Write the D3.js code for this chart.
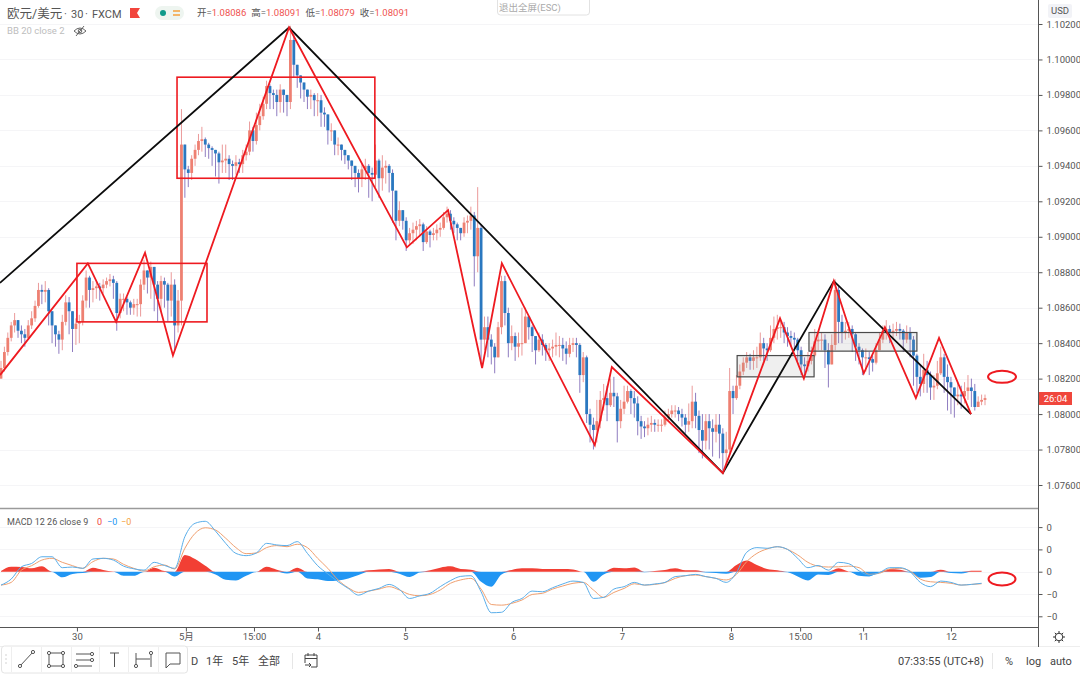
<!DOCTYPE html>
<html>
<head>
<meta charset="utf-8">
<script src="https://cdn.jsdelivr.net/npm/d3@7"></script>
<style>
  html, body { margin: 0; padding: 0; background: #fff; }
  svg { display: block; font-family: Roboto, "Noto Sans CJK SC", sans-serif; }
</style>
</head>
<body>
<svg id="chart" width="1080" height="675"></svg>
<script>
// candles, in pips above basePrice, one bar per column of the chart
const basePrice = 1.07;
const closes = [
  126,135,143,150,153,147,145,143,150,154, 161,170,169,170,158,150,145,142,152,163,
  158,148,151,152,164,177,170,171,172,171, 173,175,176,174,157,165,165,163,160,162,
  162,173,181,177,183,173,165,175,173,164, 173,150,164,252,238,236,244,249,254,255,
  252,250,249,247,242,243,244,241,240,242, 241,246,248,260,254,263,268,275,285,281,
  280,276,283,280,276,311,297,291,287,283, 279,280,277,277,270,269,260,260,252,252,
  249,246,243,240,236,233,238,240,236,235, 243,233,239,240,236,226,209,215,209,198,
  202,204,206,207,197,203,201,202,204,205, 211,213,209,207,205,202,208,209,212,189,
  205,142,149,142,138,132,149,175,157,140, 144,138,140,140,155,149,144,136,142,139,
  136,137,138,139,139,137,134,139,140,139, 122,132,100,94,91,96,108,109,105,112,
  110,96,103,107,113,109,106,96,93,92, 94,95,94,94,94,98,100,102,102,100,
  98,94,96,107,99,91,85,96,92,90, 94,89,78,80,113,109,116,124,129,132,
  130,132,132,140,137,136,143,148,149,149, 146,144,143,142,136,128,127,130,133,141,
  142,142,136,128,139,170,152,146,147,148, 145,138,136,132,132,131,129,136,142,147,
  148,146,147,148,147,142,146,142,133,121, 117,125,122,115,116,123,132,121,118,115,
  110,111,110,113,115,113,104,107,108,109
];
const highs = [
  130,138,146,152,157,153,150,148,153,158, 164,174,173,175,171,158,150,147,156,167,
  166,158,154,156,167,181,178,175,175,174, 176,177,179,178,175,168,168,166,164,165,
  165,176,187,181,186,182,175,178,177,174, 180,176,170,272,252,240,246,252,258,262,
  256,253,251,249,248,252,252,246,243,246, 244,249,252,265,262,270,275,279,288,286,
  283,283,286,283,280,319,314,296,290,287, 283,283,281,281,280,273,263,264,260,256,
  252,248,246,243,240,238,241,244,241,239, 252,244,246,243,241,238,226,220,214,211,
  205,208,209,210,208,206,204,205,207,208, 214,217,215,211,208,205,211,212,217,214,
  228,207,155,155,145,140,152,178,178,160, 150,146,146,160,160,154,150,144,146,145,
  140,140,142,146,144,143,141,143,143,143, 140,135,133,103,98,108,113,117,116,120,
  121,112,108,116,116,114,113,110,99,96, 98,99,97,97,97,102,103,105,105,104,
  103,100,106,116,112,102,100,100,100,97, 100,100,92,90,126,116,122,128,132,135,
  134,136,138,146,143,140,150,155,156,153, 152,149,147,146,143,138,132,135,138,148,
  146,146,145,140,145,176,172,156,152,152, 150,146,140,137,137,135,133,140,146,150,
  153,150,151,152,151,148,150,149,144,134, 128,134,130,124,122,130,138,134,128,121,
  115,118,116,118,122,120,117,110,111,111
];
const lows = [
  120,124,133,141,146,143,140,138,142,148, 152,160,162,163,150,140,138,134,136,150,
  145,135,139,140,150,160,160,163,165,164, 168,171,172,165,147,154,158,156,156,156,
  155,155,170,168,165,158,152,158,160,152, 155,136,146,150,222,228,232,240,246,248,
  245,244,240,234,230,236,236,232,232,235, 236,236,243,246,248,252,260,266,272,272,
  272,268,270,270,268,272,290,284,278,276, 272,272,268,268,262,262,252,254,246,246,
  243,241,238,232,228,225,228,232,222,220, 228,222,226,230,225,208,198,206,204,192,
  196,196,198,200,192,196,194,198,198,200, 204,208,204,202,198,198,200,202,204,172,
  180,128,136,132,128,123,138,145,150,132, 136,130,132,133,140,142,135,128,135,133,
  130,130,132,133,132,130,128,132,135,132, 112,118,95,84,80,84,92,102,96,104,
  104,84,92,100,106,100,98,88,86,87, 88,90,90,90,90,93,96,98,98,96,
  93,89,90,92,92,78,75,80,80,76, 84,75,68,70,78,100,108,114,122,126,
  125,125,126,130,130,130,135,140,142,143, 140,138,138,137,130,122,122,124,128,132,
  136,136,126,115,128,136,140,140,142,143, 135,130,128,122,124,122,124,128,136,140,
  142,140,142,144,142,135,140,132,116,112, 110,112,112,108,108,114,122,112,102,100,
  98,105,103,106,108,104,102,104,105,105
];

// MACD pane, one sample every three bars, in units of 0.0001
const macdStep = 3;
const macdLine = [
  -6,-3.3,2.2,3.7,6.7,6.7,1.8,2.1,1.5,5.7,6,5.2,2.5,1.3,.7,4.2,2.8,1.5,15.7,21.7,22.6,18.2,12.7,8.2,7.2,8.4,12.7,12,11.7,13.5,
  8.2,2.7,-1,-4.5,-7.5,-10.5,-8.7,-7.5,-5.7,-7.9,-12,-10.8,-9.7,-6.7,-4,-2.1,-1.8,-9,-18.4,-18.2,-13.8,-12,-8.7,
  -9,-7.2,-5.5,-4.2,-4.8,-12,-11.5,-7.8,-6.7,-4.8,-6,-5.5,-4.8,-2.2,-1.8,-1.2,-2.2,-3,-4.8,-.4,8.7,10.8,10.5,11.2,10,6,1.8,
  2.8,.7,4.2,3.6,.4,-1.5,-.4,1.8,1.8,0,-4.8,-6.7,-4.2,-4.8,-6,-5.7,-5.2
];
const signalLine = [
  -6,-4.8,.7,2.7,5.2,6,4.2,2.7,1.5,4.5,6,5.7,3.3,1.5,.3,2.2,3,1.2,10.5,17.2,19.7,18.7,15,10.8,8.1,8.4,10.8,11.7,11.2,12.3,
  10.8,6,1.5,-3.7,-7.2,-9.3,-8.7,-7.8,-6.7,-8.2,-10.2,-10.8,-10.2,-8.2,-5.2,-3.7,-3,-7.8,-14.7,-15,-14.2,-12.7,-10.2,
  -9.7,-7.8,-6.4,-5.2,-4.8,-8.2,-11.5,-9.3,-7.5,-5.4,-6,-5.7,-4.9,-3,-1.8,-1.5,-2.2,-3,-3.7,-1.2,4.5,8.2,10.2,11.2,10,7.5,4.2,
  2.5,2.1,2.2,2.5,1.8,-1.2,-.7,1.2,1.5,.3,-3.3,-4.5,-4.8,-5.2,-6,-5.7,-5.4
];
const macdHist = [
  .3,2.2,2.1,1.5,2.4,-.1,-2.5,-1,-.6,1.8,.8,.1,-1.8,-1.8,-.1,1.8,.3,-2.1,7.5,5.7,2.7,-1.2,-3.6,-3.9,-1.8,-.1,2.2,.9,-.8,1.8,
  -3,-3.4,-4.2,-3.9,-3,-1.5,.6,1,1.2,-.9,-2.4,-.4,.6,1.8,2.4,1.2,.9,-4.5,-6.7,-1.2,.8,1.5,1.5,
  1.2,1.2,1.2,1,0,-4.5,-1.2,1.8,1.5,1.9,-.3,.3,.8,1.5,.6,.6,-.4,-.6,-.9,3,5,3,1.2,.6,-.3,-2.1,-3.9,
  -1.2,-1.5,1.5,.1,-1.8,-2.1,-.4,1.2,.9,-.4,-2.7,-2.4,.9,-.6,-.8,.4,.4
];

// hand drawn zigzags and boxes on the chart (bar index, pips)
const redBars   = [-.3,25.5,33.8,42.3,50.5,84.6,119.2,131.3,141.3,147.1,174.4,179.4,212,228.8,235.8,244.6,253.4,259.6,268.7,275.5,284.9];
const redPips   = [122,185,152,191,133,318,194,215,126,185,82.5,126.5,66.7,154,120,175,123,149,109,143,100];
const blackBars = [-.3,84.6,212,244.6,284.9];
const blackPips = [174,318,66.7,175,100];
const redBoxes  = [[22.3,60.5,185,152],[51.7,109.8,290,233]];
const greyBoxes = [[216.2,238.8,133,121],[237.3,269,146,135.5]];

// axes
const priceTicks = [1.076,1.078,1.08,1.082,1.084,1.086,1.088,1.09,1.092,1.094,1.096,1.098,1.1,1.102];
const macdTicks  = [20,10,0,-10,-20];
const timeBars   = [22.3,54.3,74.3,93.1,118.7,150.4,182.4,214.4,234.7,253.2,279];
const timeLabels = ["30","5月","15:00","4","5","6","7","8","15:00","11","12"];

const upBody = "#ee8072", upWick = "#eb9a9a", downBody = "#2a78c0", downWick = "#8f7cc0";
const red = "#ee1a20";

const svg = d3.select("#chart");
const paneRight = 1038;

const x = d3.scaleLinear().domain([0, 289]).range([1, 985]);
const y = d3.scaleLinear().domain([1.076, 1.102]).range([485, 24]);
const yM = d3.scaleLinear().domain([-20, 20]).range([616.3, 527.1]);
const price = p => y(basePrice + p / 10000);

svg.append("defs").append("clipPath").attr("id", "mainClip")
  .append("rect").attr("width", paneRight).attr("height", 508);

// grid
svg.append("g").selectAll("line").data(priceTicks).enter().append("line")
  .attr("x1", 0).attr("x2", paneRight)
  .attr("y1", d => Math.round(y(d)) + .5).attr("y2", d => Math.round(y(d)) + .5)
  .attr("stroke", "#f5f5f7");
svg.append("g").selectAll("line").data(macdTicks).enter().append("line")
  .attr("x1", 0).attr("x2", paneRight)
  .attr("y1", d => Math.round(yM(d)) + .5).attr("y2", d => Math.round(yM(d)) + .5)
  .attr("stroke", "#f5f5f7");

// candles
const bars = closes.map((c, i) => {
  const o = i ? closes[i - 1] : c - 6;
  return { i, o, c, h: Math.max(highs[i], o, c), l: Math.min(lows[i], o, c) };
});
const main = svg.append("g").attr("clip-path", "url(#mainClip)");
main.append("g").selectAll("line").data(bars).enter().append("line")
  .attr("x1", d => x(d.i)).attr("x2", d => x(d.i))
  .attr("y1", d => price(d.h)).attr("y2", d => price(d.l))
  .attr("stroke", d => d.c >= d.o ? upWick : downWick);
main.append("g").selectAll("rect").data(bars).enter().append("rect")
  .attr("x", d => x(d.i) - 1.4).attr("width", 2.8)
  .attr("y", d => price(Math.max(d.o, d.c)))
  .attr("height", d => Math.max(1, Math.abs(price(d.o) - price(d.c))))
  .attr("fill", d => d.c >= d.o ? upBody : downBody);

// drawings
const boxG = main.append("g");
greyBoxes.forEach(b => boxG.append("rect")
  .attr("x", x(b[0])).attr("width", x(b[1]) - x(b[0]))
  .attr("y", price(b[2])).attr("height", price(b[3]) - price(b[2]))
  .attr("fill", "#9a9a9a").attr("fill-opacity", .16)
  .attr("stroke", "#4a4a4a").attr("stroke-width", 1.2));
redBoxes.forEach(b => boxG.append("rect")
  .attr("x", x(b[0])).attr("width", x(b[1]) - x(b[0]))
  .attr("y", price(b[2])).attr("height", price(b[3]) - price(b[2]))
  .attr("fill", "none").attr("stroke", red).attr("stroke-width", 1.6));

const zig = d3.line().x(d => x(d[0])).y(d => price(d[1]));
main.append("path").attr("d", zig(d3.zip(blackBars, blackPips)))
  .attr("fill", "none").attr("stroke", "#0c0c0c").attr("stroke-width", 1.8);
main.append("path").attr("d", zig(d3.zip(redBars, redPips)))
  .attr("fill", "none").attr("stroke", red).attr("stroke-width", 1.8);

// macd
const mx = (d, i) => x(i * macdStep);
const histUp = d3.area().x(mx).y0(yM(0)).y1(d => yM(Math.max(0, d))).curve(d3.curveMonotoneX);
const histDown = d3.area().x(mx).y0(yM(0)).y1(d => yM(Math.min(0, d))).curve(d3.curveMonotoneX);
svg.append("path").attr("d", histUp(macdHist)).attr("fill", "#f23f34");
svg.append("path").attr("d", histDown(macdHist)).attr("fill", "#2196f3");
const mLine = d3.line().x(mx).y(d => yM(d)).curve(d3.curveMonotoneX);
svg.append("path").attr("d", mLine(signalLine)).attr("fill", "none").attr("stroke", "#f0a070");
svg.append("path").attr("d", mLine(macdLine)).attr("fill", "none").attr("stroke", "#5aaeea");

// circled last values
svg.append("ellipse").attr("cx", x(294)).attr("cy", price(121)).attr("rx", 14).attr("ry", 6)
  .attr("fill", "none").attr("stroke", red).attr("stroke-width", 2);
svg.append("ellipse").attr("cx", x(294)).attr("cy", yM(-3.3)).attr("rx", 13.5).attr("ry", 6.5)
  .attr("fill", "none").attr("stroke", red).attr("stroke-width", 2);

// frame
svg.append("line").attr("x1", 0).attr("x2", paneRight).attr("y1", 508.5).attr("y2", 508.5).attr("stroke", "#9a9a9a").attr("stroke-width", 1.4);
svg.append("line").attr("x1", 0).attr("x2", paneRight).attr("y1", 627.5).attr("y2", 627.5).attr("stroke", "#555");
svg.append("line").attr("x1", 0).attr("x2", 1080).attr("y1", 646.5).attr("y2", 646.5).attr("stroke", "#eeeeee");

// axes
function styleAxis(g) {
  g.select(".domain").attr("stroke", "#555");
  g.selectAll(".tick line").attr("stroke", "#555");
  g.selectAll("text").attr("fill", "#555").attr("font-size", 9.5).attr("font-family", "Roboto, 'Noto Sans CJK SC', sans-serif");
}
svg.append("g").attr("transform", `translate(${paneRight + .5},0)`)
  .call(d3.axisRight(y).tickValues(priceTicks).tickFormat(d3.format(".5f")).tickSize(4).tickPadding(4))
  .call(styleAxis)
  .call(g => g.select(".domain").attr("d", "M0,0V508"));
svg.append("g").attr("transform", `translate(${paneRight + .5},0)`)
  .call(d3.axisRight(yM).tickValues(macdTicks).tickFormat(d => d < 0 ? "−0" : "0").tickSize(4).tickPadding(4))
  .call(styleAxis)
  .call(g => g.select(".domain").attr("d", "M0,508V647"));
svg.append("g").attr("transform", "translate(0,627.5)")
  .call(d3.axisBottom(x).tickValues(timeBars).tickFormat((d, i) => timeLabels[i]).tickSize(4).tickPadding(2))
  .call(styleAxis)
  .call(g => g.select(".domain").remove());

// last price tag and currency
svg.append("rect").attr("x", 1039).attr("y", 392).attr("width", 33).attr("height", 13).attr("fill", "#f0463c");
svg.append("text").attr("x", 1055.5).attr("y", 402).attr("text-anchor", "middle").attr("fill", "#fff").attr("font-size", 9.5).text("26:04");
svg.append("rect").attr("x", 1048).attr("y", 4).attr("width", 24).attr("height", 14).attr("rx", 2).attr("fill", "#f2f3f7");
svg.append("text").attr("x", 1060).attr("y", 14).attr("text-anchor", "middle").attr("fill", "#555").attr("font-size", 9.5).text("USD");

// legend
const title = svg.append("text").attr("y", 18).attr("fill", "#555");
title.append("tspan").attr("x", 7).attr("font-size", 12.5).text("欧元/美元");
title.append("tspan").attr("x", 64).attr("font-size", 11).text("·");
title.append("tspan").attr("x", 71).attr("font-size", 11).text("30");
title.append("tspan").attr("x", 85).attr("font-size", 11).text("·");
title.append("tspan").attr("x", 92).attr("font-size", 11).text("FXCM");
svg.append("path").attr("d", "M130,8H140L137,13L140,18H130Z").attr("fill", "#f2453d");
svg.append("rect").attr("x", 155).attr("y", 6).attr("width", 29).attr("height", 14).attr("rx", 7).attr("fill", "#eef5f0");
svg.append("circle").attr("cx", 163).attr("cy", 13).attr("r", 3).attr("fill", "#0e9a8a");
svg.append("path").attr("d", "M173,11H180M173,15H180").attr("stroke", "#f5a13c").attr("stroke-width", 1.5);

const ohlc = svg.append("text").attr("x", 197).attr("y", 16).attr("font-size", 9.5);
[["开=", "1.08086"], ["高=", "1.08091"], ["低=", "1.08079"], ["收=", "1.08091"]].forEach((p, i) => {
  ohlc.append("tspan").attr("fill", "#555").attr("dx", i ? 5 : 0).text(p[0]);
  ohlc.append("tspan").attr("fill", "#ef5350").text(p[1]);
});
svg.append("text").attr("x", 7).attr("y", 34).attr("fill", "#bdbdbd").attr("font-size", 9.5).text("BB 20 close 2");
svg.append("path").attr("d", "M74,31Q80,25 86,31Q80,37 74,31ZM76,36L84,26").attr("fill", "none").attr("stroke", "#555").attr("stroke-width", .9);
svg.append("circle").attr("cx", 80).attr("cy", 31).attr("r", 1.8).attr("fill", "none").attr("stroke", "#555").attr("stroke-width", .9);

const mLegend = svg.append("text").attr("x", 7).attr("y", 525).attr("font-size", 9).attr("fill", "#555");
mLegend.append("tspan").text("MACD 12 26 close 9");
mLegend.append("tspan").attr("x", 97).attr("fill", "#f0463c").text("0");
mLegend.append("tspan").attr("x", 107).attr("fill", "#2196f3").text("−0");
mLegend.append("tspan").attr("x", 121).attr("fill", "#f5a13c").text("−0");

// exit full screen hint
svg.append("rect").attr("x", 497.5).attr("y", -3).attr("width", 92).attr("height", 18).attr("rx", 3).attr("fill", "#fff").attr("stroke", "#e2e2e2");
svg.append("text").attr("x", 499).attr("y", 11).attr("fill", "#aaa").attr("font-size", 9.5).text("退出全屏(ESC)");

// bottom bar
const barText = [["D", 191], ["1年", 206], ["5年", 232], ["全部", 258]];
svg.append("g").selectAll("text").data(barText).enter().append("text")
  .attr("x", d => d[1]).attr("y", 665).attr("font-size", 11).attr("fill", "#444").text(d => d[0]);
svg.append("line").attr("x1", 292.5).attr("x2", 292.5).attr("y1", 653).attr("y2", 669).attr("stroke", "#e6e6e6");
svg.append("path").attr("d", "M305,655H317V667H311M305,655V663M305,658.5H317M308,653V656M314,653V656M305,665H311M309,663L311,665L309,667")
  .attr("fill", "none").attr("stroke", "#444");

svg.append("text").attr("x", 898).attr("y", 665).attr("font-size", 11).attr("fill", "#444").text("07:33:55 (UTC+8)");
svg.append("line").attr("x1", 992.5).attr("x2", 992.5).attr("y1", 653).attr("y2", 669).attr("stroke", "#e6e6e6");
[["%", 1005], ["log", 1026], ["auto", 1050]].forEach(d =>
  svg.append("text").attr("x", d[1]).attr("y", 665).attr("font-size", 11).attr("fill", "#444").text(d[0]));

// gear
svg.append("circle").attr("cx", 1059).attr("cy", 637).attr("r", 3.8).attr("fill", "none").attr("stroke", "#333");
svg.append("path").attr("d", "M1059,631V633M1059,641V643M1053,637H1055M1063,637H1065M1054.8,632.8L1056.2,634.2M1061.8,639.8L1063.2,641.2M1054.8,641.2L1056.2,639.8M1061.8,634.2L1063.2,632.8")
  .attr("stroke", "#333");

// drawing toolbar
svg.append("rect").attr("x", 1.5).attr("y", 646).attr("width", 186).attr("height", 27).attr("rx", 3)
  .attr("fill", "#fff").attr("stroke", "#e4e4e4");
svg.append("g").attr("fill", "none").attr("stroke", "#555").attr("stroke-width", 1)
  .selectAll("path").data([
    "M20,666L33,652",
    "M49,653H63V666H49Z",
    "M76,654H92M76,660H92M76,666H92",
    "M110,653H119M114.5,653V667",
    "M136,653V667M151,653V667M136,659H150",
    "M166,653H180V664H170L166,668Z"
  ]).enter().append("path").attr("d", d => d);
svg.append("g").attr("fill", "#fff").attr("stroke", "#555")
  .selectAll("circle").data([[20,666],[33,652],[49,653],[63,653],[49,666],[63,666],[92,654],[92,660],[76,666],[136,666],[151,653]])
  .enter().append("circle").attr("cx", d => d[0]).attr("cy", d => d[1]).attr("r", 1.6);
svg.append("g").attr("stroke", "#eee").selectAll("line").data([11, 41, 71, 99, 128, 158]).enter().append("line")
  .attr("x1", d => d + .5).attr("x2", d => d + .5).attr("y1", 647).attr("y2", 672);
svg.append("g").attr("fill", "#ccc").selectAll("circle").data([655,659,663]).enter().append("circle")
  .attr("cx", 6).attr("cy", d => d).attr("r", .8);
</script>
</body>
</html>
